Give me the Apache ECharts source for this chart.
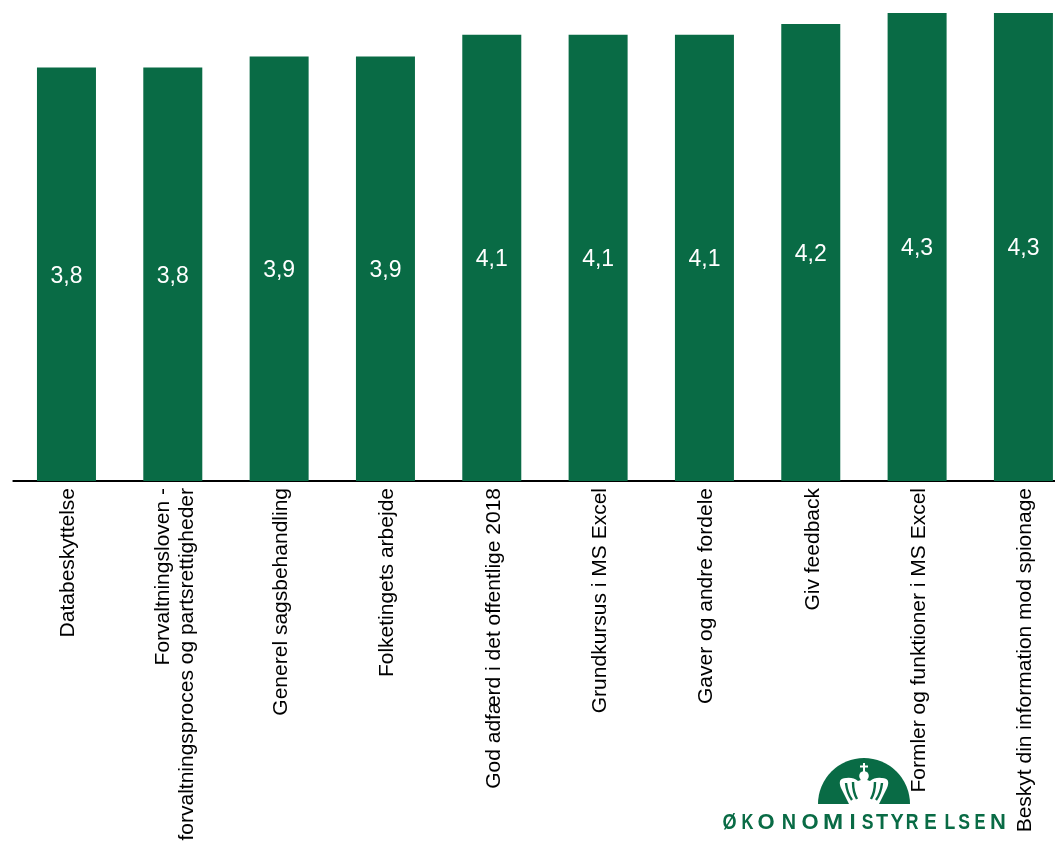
<!DOCTYPE html>
<html>
<head>
<meta charset="utf-8">
<style>html,body{margin:0;padding:0;background:#fff}#chart{width:1055px;height:841px}</style>
<script src="https://cdn.jsdelivr.net/npm/echarts@6/dist/echarts.min.js"></script>
</head>
<body>
<div id="chart"></div>
<script>
// Course ratings, lowest to highest
const categories = [
  'Databeskyttelse',
  'Forvaltningsloven -\nforvaltningsproces og partsrettigheder',
  'Generel sagsbehandling',
  'Folketingets arbejde',
  'God adfærd i det offentlige 2018',
  'Grundkursus i MS Excel',
  'Gaver og andre fordele',
  'Giv feedback',
  'Formler og funktioner i MS Excel',
  'Beskyt din information mod spionage'
];
const ratings = [3.8, 3.8, 3.9, 3.9, 4.1, 4.1, 4.1, 4.2, 4.3, 4.3];

const GREEN = '#096b45';

// Wordmark letters: horizontal centre and width factor of each glyph
const wordmark = 'ØKONOMISTYRELSEN'.split('');
const wordmarkX = [729.5, 747.5, 766, 789, 810, 833, 852.5, 867.5, 882, 897, 912, 930.5, 950, 964, 980, 998];
const wordmarkWidth = [0.82, 0.75, 1, 0.9, 1, 1.1, 1, 0.8, 0.9, 0.9, 0.8, 0.85, 0.8, 0.8, 0.75, 1];

const letterElements = wordmark.map((ch, i) => ({
  type: 'text',
  x: wordmarkX[i],
  y: 823,
  z: 5,
  scaleX: wordmarkWidth[i],
  style: {
    text: ch,
    fill: GREEN,
    font: 'bold 22px "Liberation Sans", Arial, sans-serif',
    textAlign: 'center',
    textVerticalAlign: 'middle'
  }
}));

// The graphic component has no generic path type, so the crown outlines are registered as shapes
function logoShape(name, pathData) {
  echarts.graphic.registerShape(name, echarts.graphic.extendPath(pathData, {}));
  return name;
}
logoShape('logoDome', 'M818,804 A46,46 0 0 1 910,804 Z');
logoShape('logoCrown', 'M849,804 L841,788 Q837,778 846,778 Q853,777 858,781 L864,779 L870,781 Q875,777 882,778 Q891,778 887,788 L879,804 Z');
logoShape('logoSlits', 'M846,783 Q847,793 852,800 M853,782 Q853,792 857,799 M882,783 Q881,793 876,800 M875,782 Q875,792 871,799');
logoShape('logoCross', 'M864,763 L864,773 M860,766.5 L868,766.5');
logoShape('logoStem', 'M861,778 L867,778 L869,800 L859,800 Z');

const crownElements = [
  { type: 'logoDome', z: 5, style: { fill: GREEN } },
  { type: 'logoCrown', z: 6, style: { fill: '#fff' } },
  { type: 'logoSlits', z: 7, style: { fill: 'none', stroke: GREEN, lineWidth: 2.4 } },
  { type: 'circle', z: 8, shape: { cx: 864, cy: 776, r: 4.8 }, style: { fill: '#fff' } },
  { type: 'logoCross', z: 8, style: { fill: 'none', stroke: '#fff', lineWidth: 2 } },
  { type: 'logoStem', z: 8, style: { fill: '#fff' } }
];

const chart = echarts.init(document.getElementById('chart'), null, { renderer: 'canvas' });
chart.setOption({
  animation: false,
  backgroundColor: '#fff',
  grid: { left: 13.3, top: 13, width: 1063.3, height: 468, outerBoundsMode: 'none' },
  xAxis: {
    type: 'category',
    data: categories,
    axisLine: { lineStyle: { color: '#000', width: 2 } },
    axisTick: { show: false },
    axisLabel: {
      interval: 0,
      rotate: 90,
      margin: 7,
      // A rich block honours padding while middle-aligned; it nudges the labels off the bar centres
      padding: [4, 0, 0, 0],
      rich: { plain: {} },
      color: '#000',
      fontSize: 21,
      lineHeight: 24,
      fontFamily: '"Liberation Sans", Arial, sans-serif'
    }
  },
  yAxis: { type: 'value', min: 0, max: 4.3, show: false },
  series: [{
    type: 'bar',
    data: ratings,
    barWidth: 59,
    itemStyle: { color: GREEN },
    label: {
      show: true,
      position: 'inside',
      offset: [0, 2],
      color: '#fff',
      fontSize: 23,
      fontFamily: '"Liberation Sans", Arial, sans-serif',
      formatter: p => String(p.value).replace('.', ',')
    }
  }],
  graphic: { elements: crownElements.concat(letterElements) }
});
</script>
</body>
</html>
